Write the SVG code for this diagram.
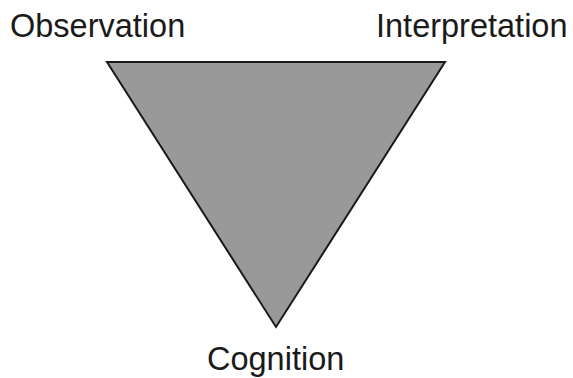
<svg xmlns="http://www.w3.org/2000/svg" width="573" height="378" viewBox="0 0 573 378">
<style>
.lbl{font-family:"Liberation Sans",Arial,sans-serif;font-size:32.5px;fill:#1a1a1a}
.tri{fill:#999999;stroke:#1a1a1a;stroke-width:2;stroke-linejoin:miter}
</style>
<rect width="573" height="378" fill="#ffffff"/>
<g id="triangle"><polygon class="tri" points="107,62 445,62 276,327"/></g>
<g id="observation"><text class="lbl" x="10" y="37">Observation</text></g>
<g id="interpretation"><text class="lbl" x="376" y="37">Interpretation</text></g>
<g id="cognition"><text class="lbl" x="207" y="370">Cognition</text></g>
<g id="connectors"></g>
</svg>
